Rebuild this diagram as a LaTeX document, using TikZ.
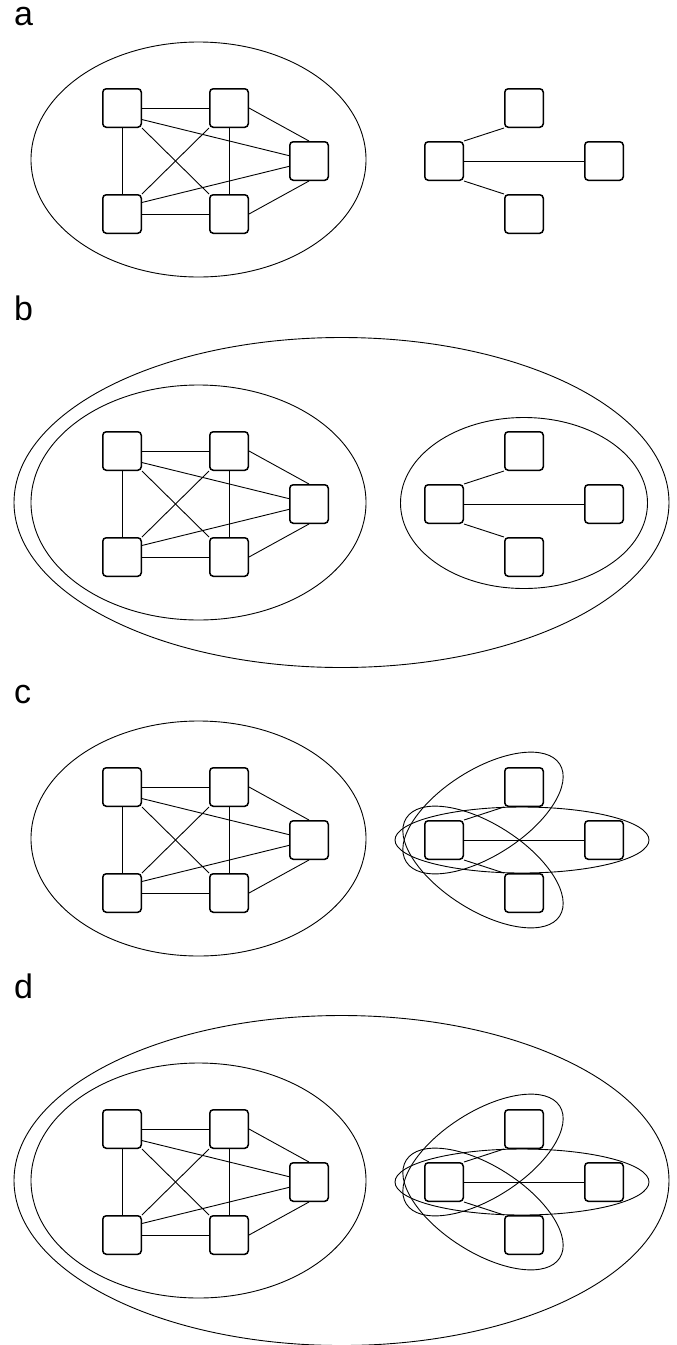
\documentclass[tikz,border=0pt]{standalone}
\usepackage{fontspec}
\setmainfont{Liberation Sans}
\tikzset{
  vert/.style={draw, line width=1.5pt, rounded corners=3.5pt, minimum size=38.5pt, inner sep=0pt},
  link/.style={line width=0.9pt},
  hull/.style={line width=0.9pt},
  panel/.style={anchor=base west, inner sep=0pt, font=\fontsize{34}{40}\selectfont}
}
\begin{document}
\begin{tikzpicture}[x=1pt,y=-1pt]
\useasboundingbox (0,0) rectangle (677,1345);

\foreach \p/\c/\ly in {a/161/25,b/504/320,c/840/703,d/1182/998}{
  \node[panel] (lbl\p) at (14,\ly) {\p};
  % five-clique on the left
  \node[vert] (tl\p) at (122,\c-53) {};
  \node[vert] (tr\p) at (229,\c-53) {};
  \node[vert] (r\p)  at (309,\c)    {};
  \node[vert] (bl\p) at (122,\c+53) {};
  \node[vert] (br\p) at (229,\c+53) {};
  \draw[link] (tl\p.east) -- (tr\p.west);
  \draw[link] (tl\p.south) -- (bl\p.north);
  \draw[link] (tr\p.south) -- (br\p.north);
  \draw[link] (bl\p.east) -- (br\p.west);
  \draw[link] (tl\p.south east) -- (br\p.north west);
  \draw[link] (tr\p.south west) -- (bl\p.north east);
  \draw[link] (tl\p.-30) -- (r\p.165);
  \draw[link] (bl\p.30) -- (r\p.195);
  \draw[link] (tr\p.east) -- (r\p.north);
  \draw[link] (br\p.east) -- (r\p.south);
  \draw[hull] (198.5,\c-1.5) ellipse [x radius=167.5, y radius=117.5];
  % star on the right
  \node[vert] (hl\p) at (444,\c)    {};
  \node[vert] (ht\p) at (524,\c-53) {};
  \node[vert] (hb\p) at (524,\c+53) {};
  \node[vert] (hr\p) at (604,\c)    {};
  \draw[link] (hl\p.north east) -- (ht\p.south west);
  \draw[link] (hl\p.south east) -- (hb\p.north west);
  \draw[link] (hl\p.east) -- (hr\p.west);
}

% b: one hull round the star, one round both
\draw[hull] (524,503) ellipse [x radius=123.5, y radius=85.5];
\draw[hull] (341.5,502.5) ellipse [x radius=327.5, y radius=165];

% c and d: one hull per edge of the star
\foreach \c in {840,1182}{
  \draw[hull] (522,\c) ellipse [x radius=127, y radius=33];
  \draw[hull, rotate around={32.5:(483,\c-27)}] (483,\c-27) ellipse [x radius=91, y radius=43];
  \draw[hull, rotate around={-32.5:(483,\c+27)}] (483,\c+27) ellipse [x radius=91, y radius=43];
}

% d: one hull round both
\draw[hull] (341.5,1180.5) ellipse [x radius=327.5, y radius=165];
\end{tikzpicture}
\end{document}
